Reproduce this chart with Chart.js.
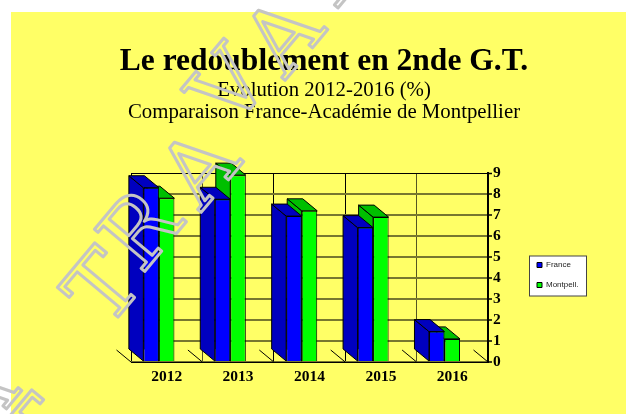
<!DOCTYPE html>
<html><head><meta charset="utf-8">
<script src="https://cdn.jsdelivr.net/npm/chart.js@4"></script>
<style>html,body{margin:0;padding:0;background:#fff}canvas{display:block}</style>
</head><body><canvas id="c" width="626" height="414"></canvas>
<script>
const categories = ['2012','2013','2014','2015','2016'];
const france = [8.3,7.75,6.95,6.4,1.45];
const montpellier = [7.8,8.9,7.2,6.9,1.1];
const titleText = 'Le redoublement en 2nde G.T.';
const subtitleLines = ['Evolution 2012-2016 (%)','Comparaison France-Académie de Montpellier'];
const watermarkLetters = ['T','R','A','V','A','I','A','T'];
const watermarkX = [101,138,197,227,281,321,-25,38];
const watermarkY = [286,228,166,85,34,-23,395,433];
const DX=14.5, DY=12, SHIFT=7.8;
const darkFace={France:'#0000bf','Montpell.':'#00bf00'};
const verticalColors=['#000','#555522','#000','#000','#555522','#000'];

const decor={id:'decor',
 beforeDraw(ch){const c=ch.ctx;c.save();
  c.fillStyle='#ffff66';c.fillRect(11,12,615,402);
  c.fillStyle='#fff';c.fillRect(529.5,256,57,40);
  c.strokeStyle='#444';c.lineWidth=1;c.strokeRect(529.5,256,57,40);
  c.restore();},
 afterLayout(ch){const l=ch.legend;l.left=525;l.right=590;l.top=249;l.bottom=330;
  ch.boxes.forEach(b=>{if(b.options&&b.options.text){b.left=0;b.right=648;}});},
 beforeDatasetsDraw(ch){const c=ch.ctx,x=ch.scales.x,y0=ch.chartArea.bottom,w=x.width/categories.length;
  c.save();c.strokeStyle='#000';c.lineWidth=1;
  for(let i=0;i<=categories.length;i++){const p=ch.chartArea.left+i*w;
   c.beginPath();c.moveTo(p,y0);c.lineTo(p-DX,y0-DY);c.stroke();}
  c.restore();},
 beforeDatasetDraw(ch,a){const c=ch.ctx;c.save();c.translate(-SHIFT,0);
  const col=darkFace[ch.data.datasets[a.index].label];
  c.fillStyle=col;c.strokeStyle='#000';c.lineWidth=1;
  a.meta.data.forEach(b=>{const l=b.x-b.width/2,r=b.x+b.width/2,t=b.y,bs=b.base;
   c.beginPath();c.moveTo(l,t);c.lineTo(l-DX,t-DY);c.lineTo(l-DX,bs-DY);c.lineTo(l,bs);c.closePath();c.fill();c.stroke();
   c.beginPath();c.moveTo(l,t);c.lineTo(l-DX,t-DY);c.lineTo(r-DX,t-DY);c.lineTo(r,t);c.closePath();c.fill();c.stroke();
  });},
 afterDatasetDraw(ch){ch.ctx.restore();},
 afterDraw(ch){const c=ch.ctx;
  watermarkLetters.forEach((t,i)=>{c.save();
   c.strokeStyle='#c4c4c4';c.lineWidth=3;c.lineJoin='round';c.lineCap='round';
   c.font='90px "DejaVu Serif"';c.textAlign='center';
   c.translate(watermarkX[i],watermarkY[i]);c.rotate(-50*Math.PI/180);c.strokeText(t,0,33);
   c.restore();});}
};

new Chart(document.getElementById('c'),{
 type:'bar',
 data:{labels:categories,datasets:[
  {label:'France',data:france,backgroundColor:'#0000ff',borderColor:'#000',borderWidth:1,clip:false},
  {label:'Montpell.',data:montpellier,backgroundColor:'#00ff00',borderColor:'#000',borderWidth:1,clip:false}]},
 plugins:[decor],
 options:{responsive:false,animation:false,devicePixelRatio:1,
  categoryPercentage:0.435,barPercentage:1,
  layout:{padding:{left:131,right:109,top:0,bottom:0}},
  plugins:{
   title:{display:true,text:titleText,color:'#000',font:{family:'"Liberation Serif"',size:31.5,weight:'bold',lineHeight:1.1},padding:{top:45,bottom:0}},
   subtitle:{display:true,text:subtitleLines,color:'#000',font:{family:'"Liberation Serif"',size:20.8,weight:'normal',lineHeight:1.05},padding:{top:0,bottom:49.7}},
   legend:{position:'chartArea',align:'start',labels:{boxWidth:5,boxHeight:5,padding:12,color:'#222',font:{family:'"Liberation Sans"',size:8}}},
   tooltip:{enabled:false}
  },
  scales:{
   x:{offset:true,
    grid:{offset:true,drawTicks:false,color:c=>verticalColors[c.index]||'#000',lineWidth:1},
    border:{color:'#000',width:1},
    ticks:{color:'#000',maxRotation:0,autoSkip:false,padding:6,font:{family:'"Liberation Serif"',size:15.5,weight:'bold'}},
    afterFit(s){s.height=52;}},
   y:{position:'right',min:0,max:9,
    grid:{color:c=>c.tick&&c.tick.value===9?'#000':'#77772f',lineWidth:c=>c.tick&&c.tick.value===9?1:2,tickColor:'#000',tickWidth:1.5,tickLength:4},
    border:{color:'#000',width:2},
    ticks:{stepSize:1,autoSkip:false,color:'#000',padding:1,font:{family:'"Liberation Serif"',size:15.5,weight:'bold'}},
    afterFit(s){s.width=29;}}
  }
 }
});
</script></body></html>
